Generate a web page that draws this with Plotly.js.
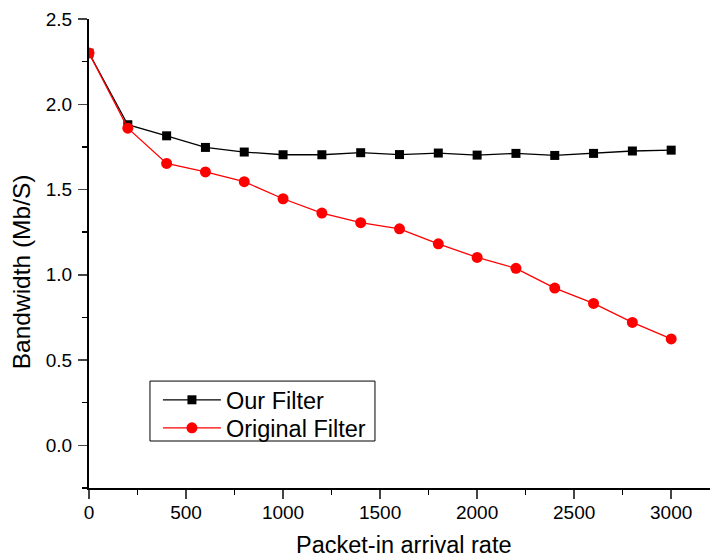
<!DOCTYPE html>
<html>
<head>
<meta charset="utf-8">
<script src="https://cdn.plot.ly/plotly-3.0.1.min.js"></script>
<style>html,body{margin:0;padding:0;background:#fff;}#chart{width:711px;height:559px;}</style>
</head>
<body>
<div id="chart"></div>
<script>
const arrivalRate = [0, 200, 400, 600, 800, 1000, 1200, 1400, 1600, 1800, 2000, 2200, 2400, 2600, 2800, 3000];
const ourFilter = [2.30, 1.88, 1.815, 1.747, 1.72, 1.704, 1.704, 1.716, 1.705, 1.714, 1.702, 1.712, 1.700, 1.712, 1.726, 1.731];
const originalFilter = [2.30, 1.86, 1.653, 1.603, 1.546, 1.446, 1.362, 1.306, 1.270, 1.182, 1.102, 1.038, 0.922, 0.832, 0.721, 0.624];
const seriesNames = ["Our Filter", "Original Filter"];
const xTitle = "Packet-in arrival rate";
const yTitle = "Bandwidth (Mb/S)";

const font = "Arial, 'Liberation Sans', sans-serif";
const traces = [
  {x: arrivalRate, y: ourFilter, name: seriesNames[0], type: "scatter", mode: "lines+markers", legend: "legend",
   line: {color: "#000000", width: 1.3}, marker: {symbol: "square", size: 9, color: "#000000"}},
  {x: arrivalRate, y: originalFilter, name: seriesNames[1], type: "scatter", mode: "lines+markers", legend: "legend2",
   line: {color: "#ff0000", width: 1.3}, marker: {symbol: "circle", size: 11, color: "#ff0000"}}
];
const legendStyle = {xanchor: "left", yanchor: "top", bgcolor: "rgba(0,0,0,0)", borderwidth: 0,
  font: {family: font, size: 23.5, color: "#000000"}, itemwidth: 58};
const layout = {
  width: 711, height: 559,
  margin: {l: 89, r: 1, t: 19, b: 71},
  paper_bgcolor: "#ffffff", plot_bgcolor: "#ffffff",
  font: {family: font, color: "#000000", size: 19},
  showlegend: true,
  legend: Object.assign({x: 0.111, y: 0.2345}, legendStyle),
  legend2: Object.assign({x: 0.111, y: 0.1748}, legendStyle),
  shapes: [
    {type: "rect", xref: "paper", yref: "paper", x0: 0.0982, x1: 0.4605, y0: 0.1002, y1: 0.228,
     line: {color: "#000000", width: 1}, fillcolor: "#ffffff", layer: "below"}
  ],
  xaxis: {range: [0, 3200], tickvals: [0, 500, 1000, 1500, 2000, 2500, 3000], ticks: "outside", ticklen: 9, tickwidth: 1.5,
    showline: true, linecolor: "#000000", linewidth: 2, showgrid: false, zeroline: false,
    tickfont: {family: font, size: 19}, ticklabelstandoff: -3,
    minor: {dtick: 250, tick0: 0, ticks: "outside", ticklen: 5, tickwidth: 1.5, tickcolor: "#000000", showgrid: false}},
  yaxis: {range: [-0.25, 2.5], tickvals: [0, 0.5, 1, 1.5, 2, 2.5], tickformat: ".1f", ticks: "outside", ticklen: 9, tickwidth: 1.5,
    showline: true, linecolor: "#000000", linewidth: 2, showgrid: false, zeroline: false,
    tickfont: {family: font, size: 19}, ticklabelstandoff: 2,
    minor: {dtick: 0.25, tick0: 0, ticks: "outside", ticklen: 5, tickwidth: 1.5, tickcolor: "#000000", showgrid: false}},
  annotations: [
    {text: xTitle, xref: "paper", yref: "paper", x: 0.507, y: -0.121, xanchor: "center", yanchor: "middle",
     showarrow: false, font: {family: font, size: 23.5, color: "#000000"}},
    {text: yTitle, xref: "paper", yref: "paper", x: -0.1095, y: 0.46, xanchor: "center", yanchor: "middle",
     textangle: -90, showarrow: false, font: {family: font, size: 24.5, color: "#000000"}}
  ]
};
Plotly.newPlot("chart", traces, layout, {staticPlot: true, displayModeBar: false});
</script>
</body>
</html>
